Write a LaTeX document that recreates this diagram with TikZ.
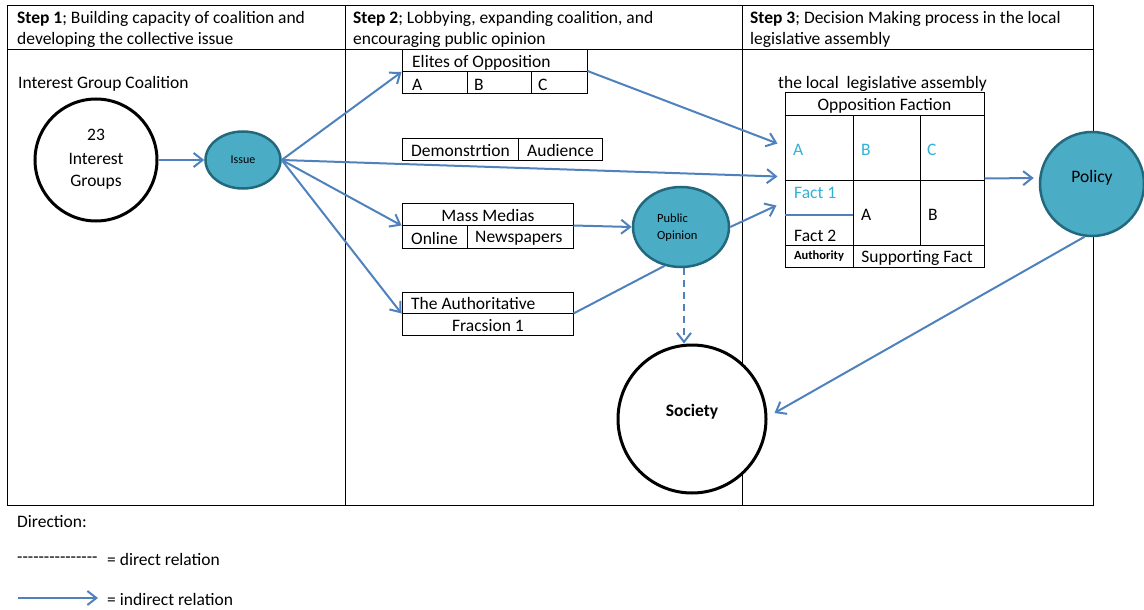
\documentclass[tikz,border=0pt]{standalone}
\usepackage{fontspec}
\setmainfont{Carlito}
\usetikzlibrary{arrows.meta,calc,shapes.geometric}
\definecolor{arrblue}{RGB}{79,129,189}
\definecolor{tealfill}{RGB}{75,172,198}
\definecolor{tealdraw}{RGB}{35,105,125}
\definecolor{cyantext}{RGB}{49,176,214}
\tikzset{
  txt/.style={font=\fontsize{17.5}{20}\selectfont, inner sep=0pt, yshift=-1.5pt},
  arr/.style={draw=arrblue, line width=2pt, -{Straight Barb[length=9pt,width=14pt,line width=2pt]}},
  lin/.style={draw=arrblue, line width=2pt},
  dsh/.style={draw=arrblue, line width=2pt, dash pattern=on 7pt off 5pt, -{Straight Barb[length=9pt,width=14pt,line width=2pt]}},
  bcirc/.style={circle, draw=black, line width=3pt, fill=white, inner sep=0pt},
  tell/.style={ellipse, draw=tealdraw, line width=2.5pt, fill=tealfill, inner sep=0pt},
  tcirc/.style={circle, draw=tealdraw, line width=2.5pt, fill=tealfill, inner sep=0pt},
  boxn/.style={draw=black, line width=1pt, inner sep=0pt},
  cell/.style={draw=black, line width=1pt, inner sep=0pt},
}
\begin{document}
\begin{tikzpicture}[x=1pt,y=-1pt]
\useasboundingbox (0,0) rectangle (1144,610);
% frame
\draw[line width=1pt] (7,6) rectangle (1093,505);
\draw[line width=1pt] (7,50) -- (1093,50);
\draw[line width=1pt] (345,6) -- (345,505);
\draw[line width=1pt] (742,6) -- (742,505);
% headers
\node[txt, anchor=west] (h1a) at (17,17) {\textbf{Step 1}; Building capacity of coalition and};
\node[txt, anchor=west] (h1b) at (17,38) {developing the collective issue};
\node[txt, anchor=west] (h2a) at (353,17) {\textbf{Step 2}; Lobbying, expanding coalition, and};
\node[txt, anchor=west] (h2b) at (353,38) {encouraging public opinion};
\node[txt, anchor=west] (h3a) at (750,17) {\textbf{Step 3}; Decision Making process in the local};
\node[txt, anchor=west] (h3b) at (750,38) {legislative assembly};
% step 1
\node[txt, anchor=west] (igc) at (18,82) {Interest Group Coalition};
\node[bcirc, minimum size=122pt] (ig) at (96,160) {};
\node[txt] at (96,133) {23};
\node[txt] at (96,157) {Interest};
\node[txt] at (96,181) {Groups};
\node[tell, minimum width=75pt, minimum height=57pt, font=\fontsize{12}{14}\selectfont] (issue) at (243,160) {Issue};
% step 2 boxes
\node[boxn, minimum width=185pt, minimum height=44pt] (elites) at (494.5,72) {};
\draw[line width=1pt] (elites.west) -- (elites.east);
\draw[line width=1pt] (467,72) -- (467,94);
\draw[line width=1pt] (531,72) -- (531,94);
\node[txt, anchor=west] at (412,61) {Elites of Opposition};
\node[txt, anchor=west] at (412,83) {A};
\node[txt, anchor=west] at (474,83) {B};
\node[txt, anchor=west] at (538,83) {C};

\node[boxn, minimum width=200pt, minimum height=22pt] (demo) at (502,149) {};
\draw[line width=1pt] (518,138) -- (518,160);
\node[txt, anchor=west] at (411,149) {Demonstrtion};
\node[txt, anchor=west] at (527,149) {Audience};

\node[boxn, minimum width=171pt, minimum height=45pt] (mm) at (487.5,225.5) {};
\draw[line width=1pt] (mm.west) -- (mm.east);
\draw[line width=1pt] (467,226) -- (467,248);
\node[txt] at (488,214) {Mass Medias};
\node[txt, anchor=west] at (411,237) {Online};
\node[txt, anchor=west] at (475,237) {Newspapers};

\node[boxn, minimum width=171pt, minimum height=43pt] (auth) at (487.5,313.5) {};
\draw[line width=1pt] (auth.west) -- (auth.east);
\node[txt, anchor=west] at (411,302) {The Authoritative};
\node[txt] at (488,324) {Fracsion 1};

\node[tell, minimum width=96pt, minimum height=80pt] (po) at (681,227) {};
\node[txt, anchor=west, font=\fontsize{12.5}{14}\selectfont] at (657,217) {Public};
\node[txt, anchor=west, font=\fontsize{12.5}{14}\selectfont] at (657,235) {Opinion};
\node[bcirc, minimum size=148pt] (soc) at (692,419) {};
\node[txt, font=\fontsize{17.5}{20}\selectfont\bfseries] at (692,410) {Society};

% step 3 table
\node[txt, anchor=west] at (778,82) {the local\ \ legislative assembly};
\node[cell, minimum width=199pt, minimum height=22pt] (opp) at (884.5,104) {};
\node[txt] at (884.5,104) {Opposition Faction};
\node[cell, minimum width=68pt, minimum height=65pt] (cA) at (819,147.5) {};
\node[cell, minimum width=67pt, minimum height=65pt] (cB) at (886.5,147.5) {};
\node[cell, minimum width=64pt, minimum height=65pt] (cC) at (952,147.5) {};
\node[cell, minimum width=68pt, minimum height=65pt] (cF) at (819,212.5) {};
\node[cell, minimum width=67pt, minimum height=65pt] (cA2) at (886.5,212.5) {};
\node[cell, minimum width=64pt, minimum height=65pt] (cB2) at (952,212.5) {};
\node[cell, minimum width=68pt, minimum height=22pt] (cau) at (819,256) {};
\node[cell, minimum width=131pt, minimum height=22pt] (csf) at (918.5,256) {};
\node[txt, anchor=west, text=cyantext] at (793,148) {A};
\node[txt, anchor=west, text=cyantext] at (861,148) {B};
\node[txt, anchor=west, text=cyantext] at (927,148) {C};
\node[txt, anchor=west, text=cyantext] at (794,191) {Fact 1};
\node[txt, anchor=west] at (794,234) {Fact 2};
\draw[arrblue, line width=1.3pt] (785,215) -- (853,215);
\node[txt, anchor=west] at (861,213) {A};
\node[txt, anchor=west] at (928,213) {B};
\node[txt, font=\fontsize{12.5}{14}\selectfont\bfseries] at (819,255) {Authority};
\node[txt] at (917,256) {Supporting Fact};

\node[tcirc, minimum size=104pt] (policy) at (1092,184) {};
\node[txt] at (1092,176) {Policy};

% connectors
\draw[arr] (ig.east) -- (issue.west);
\draw[arr] (issue.east) -- (elites.west);
\draw[arr] (issue.east) -- (mm.west);
\draw[arr] (issue.east) -- (auth.west);
\draw[arr] (issue.east) -- ([xshift=-7pt,yshift=3pt]cF.north west);
\draw[arr] ([yshift=1pt]elites.east) -- ([xshift=-7pt,yshift=4pt]cA.west);
\draw[arr] (mm.east) -- (po.west);
\draw[lin] (auth.east) -- (po.-113);
\draw[arr] (po.east) -- ([xshift=-8pt,yshift=7pt]cF.west);
\draw[dsh] ([xshift=3pt]po.south) -- ([xshift=3pt]po.south |- soc.north);
\draw[arr] ([yshift=2pt]cC.south east) -- ([xshift=-5pt,yshift=6pt]policy.west);
\draw[arr] (policy.-98) -- ([xshift=7pt,yshift=6pt]soc.east);

% legend
\node[txt, anchor=west] at (17,520) {Direction:};
\node[txt, anchor=west] (dl) at (17,558) {-{}-{}-{}-{}-{}-{}-{}-{}-{}-{}-{}-{}-{}-{}-{}};
\node[txt, anchor=west] at (107,558) {= direct relation};
\coordinate (la) at (18,598);
\coordinate (lb) at (98,598);
\draw[arr] (la) -- (lb);
\node[txt, anchor=west] at (107,598) {= indirect relation};
\end{tikzpicture}
\end{document}
